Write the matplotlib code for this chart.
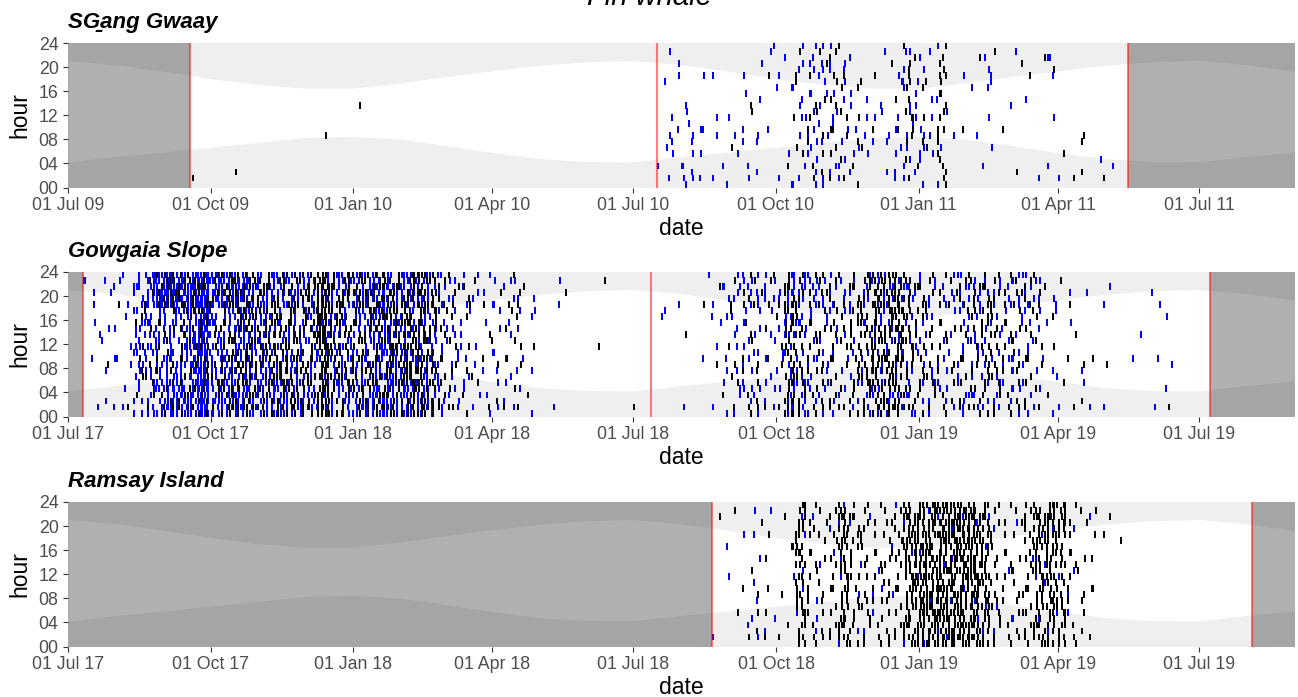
import datetime as dt
import matplotlib
matplotlib.use("Agg")
import matplotlib.pyplot as plt
import matplotlib.dates as mdates

plt.rcParams['font.family'] = ['Liberation Sans', 'DejaVu Sans']

sites = ['SG\u0331ang Gwaay', 'Gowgaia Slope', 'Ramsay Island']
first_year = [2009, 2017, 2017]
deploy_start = [['2009-09-18', '2010-07-16'], ['2017-07-11', '2018-07-12'], ['2018-08-21']]
deploy_end = [['2010-07-16', '2011-05-16'], ['2018-07-12', '2019-07-08'], ['2019-08-04']]

# sunrise / sunset (hour) on the 1st of each month, Jul .. Jun
sunrise = [4.25, 5.15, 5.9, 6.7, 7.5, 8.3, 8.5, 8.0, 7.0, 5.8, 4.8, 4.3]
sunset = [21.1, 20.4, 19.3, 18.1, 17.1, 16.5, 16.5, 17.4, 18.4, 19.4, 20.3, 20.9]

# detections: week number since 1 Jul of first year, then counts of hourly
# tiles per 6 h band (00-06, 06-12, 12-18, 18-24) in base 36
sg_weeks = [11, 15, 23, 26, 54, 55, 56, 57, 58, 59, 60, 61, 62, 63, 64, 65, 66, 67, 68, 69,
            70, 71, 72, 73, 74, 75, 76, 77, 78, 79, 80, 81, 82, 83, 84, 85, 86, 87, 88, 89,
            90, 91, 92, 93, 95, 96]
sg_blue = ['0000', '0000', '0000', '0000', '1000', '2411', '3112', '3310', '2201', '1201',
           '2100', '1100', '2211', '1211', '0101', '1012', '2011', '2223', '3434', '3334',
           '2323', '3222', '2221', '1210', '0210', '1211', '3311', '3433', '4432', '1211',
           '1111', '0110', '0001', '0110', '1112', '0111', '0010', '0001', '0010', '1000',
           '1103', '1000', '0000', '0000', '1000', '1000']
sg_black = ['2000', '1000', '0100', '0010', '0000', '0000', '0000', '0000', '0000', '0000',
            '0000', '0100', '0010', '0010', '0001', '0000', '1100', '1112', '2311', '2122',
            '2333', '2222', '2210', '0110', '0101', '0001', '0110', '2444', '1211', '0110',
            '6556', '0000', '0100', '0000', '0001', '0001', '0100', '1001', '0001', '0000',
            '0002', '1000', '1000', '1200', '1000', '0000']

gs_weeks = [1, 2, 3, 4, 5, 6, 7, 8, 9, 10, 11, 12, 13, 14, 15, 16, 17, 18, 19, 20,
            21, 22, 23, 24, 25, 26, 27, 28, 29, 30, 31, 32, 33, 34, 35, 36, 37, 38, 39, 40,
            41, 42, 43, 44, 45, 48, 49, 52, 54, 55, 56, 58, 59, 60, 61, 62, 63, 64, 65, 66,
            67, 68, 69, 70, 71, 72, 73, 74, 75, 76, 77, 78, 79, 80, 81, 82, 83, 84, 85, 86,
            87, 88, 89, 90, 91, 92, 93, 94, 95, 96, 98, 99, 100, 101]
gs_blue = ['0011', '1122', '1122', '1212', '2212', '6878', '788e', 'a8bi', 'eb8k', 'gb8i',
           'gebk', 'okmo', 'b88g', 'bb8e', 'ebbg', 'ebbe', 'b88b', 'b88b', 'b878', '8878',
           '8767', '8778', '4445', '7778', '8767', '8778', 'a88a', 'dbbd', 'dbab', 'a99a',
           'a989', '9888', '8777', '5445', '3434', '3323', '2213', '2112', '2222', '2222',
           '2223', '1111', '0010', '1000', '0002', '0000', '0000', '0000', '0010', '0010',
           '1001', '0100', '1112', '2223', '3234', '3335', '4335', '2224', '3324', '6568',
           '6457', '4346', '3335', '3234', '2223', '3223', '4335', '4445', '4345', '3334',
           '4334', '3333', '3334', '3223', '2223', '5445', '4445', '3334', '4334', '2233',
           '3334', '3335', '2224', '1111', '1111', '0011', '1101', '1000', '1001', '0001',
           '0110', '0001', '1101', '1110']
gs_black = ['0000', '0000', '0100', '0001', '1000', '1420', '3223', '3337', '433b', '5448',
            '5447', '7688', '4335', '7668', '8878', '8b88', '7767', '8878', '8878', 'a7a7',
            '7767', '6767', 'kilk', '7889', '778b', '6668', '7778', '8878', '9a89', '8989',
            'cbbb', 'cbbc', '9899', '4334', '3323', '2213', '1102', '1111', '1111', '1121',
            '2223', '1101', '0000', '0000', '0001', '0100', '0001', '1000', '0000', '0000',
            '0010', '0001', '0100', '1101', '2212', '3224', '3213', '1112', '1212', 'a899',
            '6555', '3333', '4445', '4444', '3232', '6666', '7677', 'aabb', 'aaaa', 'bbbc',
            '6667', '5445', '4334', '3323', '2223', '3334', '4445', '6666', '5555', '3333',
            '3334', '3334', '2223', '1111', '1001', '1111', '1100', '0100', '0100', '0000',
            '0000', '0000', '0000', '1000']

ri_weeks = [59, 60, 61, 62, 63, 64, 65, 66, 67, 68, 69, 70, 71, 72, 73, 74, 75, 76, 77, 78,
            79, 80, 81, 82, 83, 84, 85, 86, 87, 88, 89, 90, 91, 92, 93, 94, 95, 96, 97]
ri_blue = ['1000', '0110', '0000', '1001', '2212', '1001', '1000', '0100', '1112', '1001',
           '1110', '0011', '1112', '1101', '1011', '1110', '0110', '0101', '1011', '1110',
           '0111', '1111', '1111', '0101', '1101', '1111', '1101', '0010', '1001', '0010',
           '1111', '1112', '1101', '1111', '0000', '0001', '0000', '0000', '0000']
ri_black = ['0000', '0001', '1001', '1100', '2111', '2111', '1100', '1011', 'abab', '4434',
            '3333', '4433', 'cbbc', '6556', '5445', '3333', '5554', '4444', 'cccd', 'ggfg',
            'ffff', 'ghgg', 'gggh', 'hggg', 'hhhg', 'cccc', '5544', '3333', '3323', '6566',
            'bbbb', 'cbbh', 'a99e', '3333', '2222', '1212', '0001', '0001', '0010']

detections = [(sg_weeks, sg_blue, sg_black), (gs_weeks, gs_blue, gs_black),
              (ri_weeks, ri_blue, ri_black)]

# fill order of the 42 day/hour slots inside one week x 6 h cell
SLOTS = [23, 5, 38, 14, 31, 0, 19, 40, 9, 27, 34, 2, 16, 41, 12, 25, 6, 36, 20, 30, 1,
         17, 39, 11, 28, 4, 33, 22, 8, 37, 15, 26, 3, 35, 18, 10, 29, 7, 32, 21, 13, 24]


def week_tiles(weeks, blue, black):
    tiles = {'black': ([], []), 'blue': ([], [])}
    for w, tb, tk in zip(weeks, blue, black):
        for band in range(4):
            nk = int(tk[band], 36)
            nb = int(tb[band], 36)
            for j in range(nk + nb):
                p = SLOTS[(j + 7 * w + 13 * band) % 42]
                key = 'black' if j < nk else 'blue'
                tiles[key][0].append(7 * w + p % 7)
                tiles[key][1].append(6 * band + p // 7)
    return tiles


def to_num(s):
    return mdates.date2num(dt.datetime.strptime(s, '%Y-%m-%d'))


W, H = 1298, 697
fig = plt.figure(figsize=(W / 100, H / 100), dpi=100)
tops = [43, 272, 502]

for i in range(3):
    ax = fig.add_axes([68 / W, 1 - (tops[i] + 144.5) / H, 1227 / W, 144.5 / H])
    y0 = first_year[i]
    t0 = mdates.date2num(dt.date(y0, 7, 1))
    t1 = mdates.date2num(dt.date(y0 + 2, 9, 1))
    ax.set_facecolor('#EFEFEF')

    months = [mdates.date2num(dt.date(y0 + (6 + m) // 12, (6 + m) % 12 + 1, 1)) for m in range(27)]
    ax.fill_between(months, [sunrise[m % 12] for m in range(27)],
                    [sunset[m % 12] for m in range(27)], color='white', lw=0, zorder=1)

    starts = [to_num(s) for s in deploy_start[i]]
    ends = [to_num(s) for s in deploy_end[i]]
    ax.axvspan(t0, starts[0], color='black', alpha=0.31, lw=0, zorder=2)
    ax.axvspan(ends[-1], t1, color='black', alpha=0.31, lw=0, zorder=2)

    tiles = week_tiles(*detections[i])
    for key, col in [('blue', '#0000FF'), ('black', 'black')]:
        xs, ys = [], []
        for d, h in zip(*tiles[key]):
            x = t0 + d
            if any(s <= x < e for s, e in zip(starts, ends)):
                xs.append(x)
                ys.append(h)
        ax.bar(xs, 1.15, width=1.3, bottom=ys, align='edge', color=col, lw=0,
               antialiased=False, zorder=3)

    for d in sorted(set(starts + ends)):
        ax.axvline(d, color='red', alpha=0.5, lw=1.5, zorder=4)

    ax.set_xlim(t0, t1)
    ax.set_ylim(0, 24)
    ax.set_yticks(range(0, 25, 4))
    ax.set_yticklabels(['%02d' % h for h in range(0, 25, 4)])
    ax.xaxis.set_major_locator(mdates.MonthLocator(bymonth=[1, 4, 7, 10]))
    ax.xaxis.set_major_formatter(mdates.DateFormatter('%d %b %y'))
    for sp in ax.spines.values():
        sp.set_visible(False)
    ax.tick_params(length=3.3, width=0.8, color='#333333', labelcolor='#4D4D4D',
                   labelsize=12.8, pad=3.5)
    ax.set_xlabel('date', fontsize=16.5, labelpad=2.5)
    ax.set_ylabel('hour', fontsize=16.5, labelpad=5)
    ax.set_title(sites[i], loc='left', fontsize=16, fontweight='bold',
                 style='italic', pad=10.5)

fig.text(0.5, 1 - 5 / H, 'Fin whale', ha='center', va='baseline', fontsize=21, style='italic')

fig.savefig('out.png', dpi=100)
